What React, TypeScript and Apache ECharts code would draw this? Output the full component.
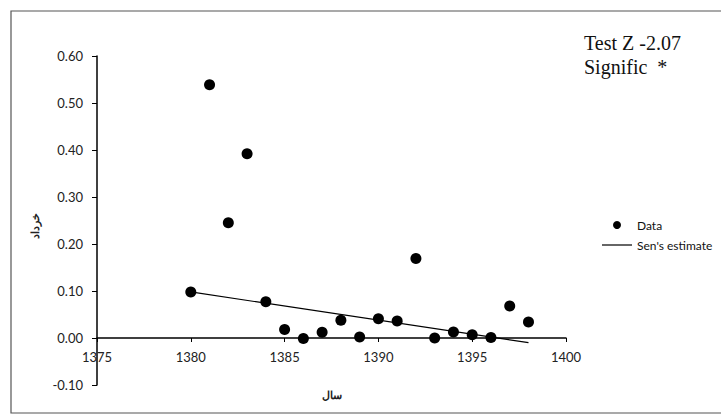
import React, { useEffect, useRef } from "react";
import * as echarts from "echarts";

const years = [1380, 1381, 1382, 1383, 1384, 1385, 1386, 1387, 1388, 1389, 1390, 1391, 1392, 1393, 1394, 1395, 1396, 1397, 1398];
const values = [0.098, 0.539, 0.245, 0.392, 0.077, 0.018, -0.001, 0.012, 0.038, 0.002, 0.041, 0.036, 0.169, 0.0, 0.013, 0.007, 0.001, 0.068, 0.034];
const senYears = [1380, 1398];
const senValues = [0.098, -0.01];
const annotationLines = ["Test Z -2.07", "Signific  *"];
const xName = "سال";
const yName = "خرداد";

export default function App() {
  const ref = useRef<HTMLDivElement>(null);
  useEffect(() => {
    if (!ref.current) return;
    const chart = echarts.init(ref.current, null, { renderer: "svg" });
    const font = "Lato, 'Open Sans', sans-serif";
    const gridTop = 56;
    const gridBottom = 30;
    const gridH = 415 - gridTop - gridBottom;
    const yMin = -0.1;
    const yMax = 0.6;
    const zeroOffset = -Math.round((gridH * (0 - yMin)) / (yMax - yMin));
    chart.setOption({
      animation: false,
      backgroundColor: "#ffffff",
      textStyle: { fontFamily: font },
      grid: { left: 97, right: 155, top: gridTop, bottom: gridBottom, containLabel: false },
      xAxis: {
        type: "value",
        min: 1375,
        max: 1400,
        interval: 5,
        offset: zeroOffset,
        axisLine: { onZero: false, lineStyle: { color: "#000", width: 1.5 } },
        axisTick: { show: true, length: 4, lineStyle: { color: "#000" } },
        axisLabel: { color: "#222", fontSize: 13, fontFamily: font, margin: 12, formatter: (v: number) => String(v) },
        splitLine: { show: false },
      },
      yAxis: {
        type: "value",
        min: yMin,
        max: yMax,
        interval: 0.1,
        axisLine: { show: true, onZero: false, lineStyle: { color: "#000", width: 1.5 } },
        axisTick: { show: true, length: 5, lineStyle: { color: "#000" } },
        axisLabel: {
          color: "#222",
          fontSize: 13,
          fontFamily: font,
          margin: 14,
          formatter: (v: number) => v.toFixed(2),
        },
        splitLine: { show: false },
      },
      legend: {
        orient: "vertical",
        left: 597,
        top: 214,
        itemWidth: 30,
        itemHeight: 8,
        itemGap: 8,
        textStyle: { fontSize: 12, color: "#111", fontFamily: font },
        data: [
          { name: "Data", icon: "circle" },
          { name: "Sen's estimate", icon: "path://M0,0 H30 V1.2 H0 Z" },
        ],
      },
      series: [
        {
          name: "Data",
          type: "scatter",
          symbol: "circle",
          symbolSize: 11,
          itemStyle: { color: "#000", opacity: 1 },
          data: years.map((y, i) => [y, values[i]]),
          z: 3,
        },
        {
          name: "Sen's estimate",
          type: "line",
          symbol: "none",
          showSymbol: false,
          lineStyle: { color: "#000", width: 1.2 },
          itemStyle: { color: "#000" },
          data: senYears.map((y, i) => [y, senValues[i]]),
          z: 2,
        },
      ],
      graphic: [
        {
          type: "rect",
          shape: { x: 11, y: 11, width: 760, height: 402 },
          style: { fill: "none", stroke: "#555", lineWidth: 1.2 },
          silent: true,
        },
        {
          type: "text",
          left: 584,
          top: 31,
          style: {
            text: annotationLines.join("\n"),
            font: "20px 'Liberation Serif', 'Times New Roman', serif",
            fill: "#111",
            lineHeight: 24,
          },
        },
        {
          type: "text",
          left: 322,
          top: 389,
          style: { text: xName, font: "bold 11px 'Noto Sans', sans-serif", fill: "#222" },
        },
        {
          type: "text",
          x: 34,
          y: 226,
          rotation: Math.PI / 2,
          style: {
            text: yName,
            font: "bold 11px 'Noto Sans', sans-serif",
            fill: "#222",
            align: "center",
            verticalAlign: "middle",
          },
        },
      ],
    });
    return () => chart.dispose();
  }, []);
  return <div ref={ref} style={{ width: 721, height: 415, position: "absolute", left: 0, top: 0 }} />;
}
